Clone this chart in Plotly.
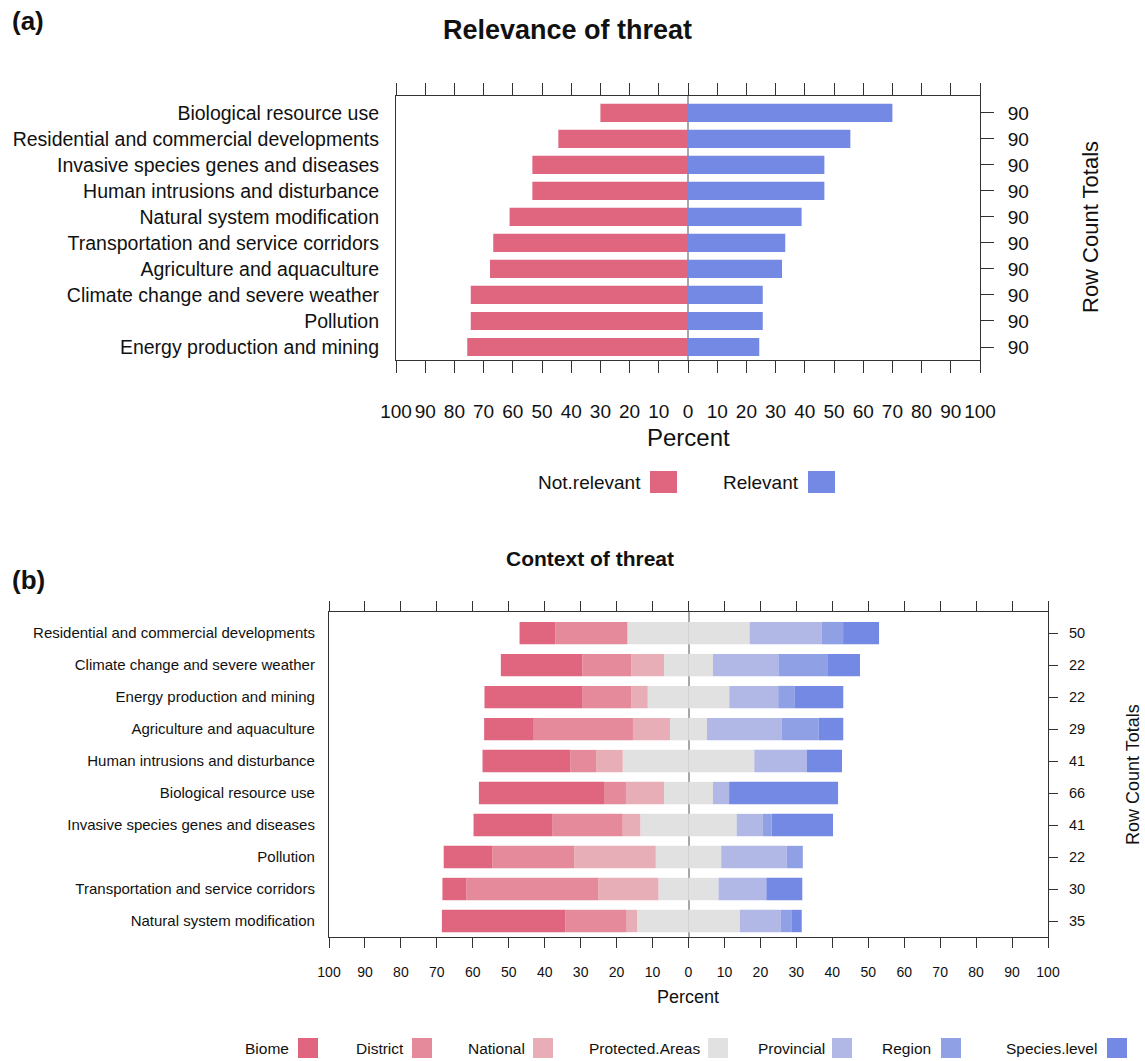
import plotly.graph_objects as go

# ---------------- data ----------------
threats_a = ["Biological resource use", "Residential and commercial developments",
             "Invasive species genes and diseases", "Human intrusions and disturbance",
             "Natural system modification", "Transportation and service corridors",
             "Agriculture and aquaculture", "Climate change and severe weather",
             "Pollution", "Energy production and mining"]
not_relevant = [30.0, 44.4, 53.3, 53.3, 61.1, 66.7, 67.8, 74.4, 74.4, 75.6]
relevant = [70.0, 55.6, 46.7, 46.7, 38.9, 33.3, 32.2, 25.6, 25.6, 24.4]
totals_a = [90, 90, 90, 90, 90, 90, 90, 90, 90, 90]

threats_b = ["Residential and commercial developments", "Climate change and severe weather",
             "Energy production and mining", "Agriculture and aquaculture",
             "Human intrusions and disturbance", "Biological resource use",
             "Invasive species genes and diseases", "Pollution",
             "Transportation and service corridors", "Natural system modification"]
totals_b = [50, 22, 22, 29, 41, 66, 41, 22, 30, 35]
biome = [10.0, 22.7, 27.3, 13.8, 24.4, 34.8, 22.0, 13.6, 6.7, 34.3]
district = [20.0, 13.6, 13.6, 27.6, 7.3, 6.1, 19.5, 22.7, 36.7, 17.1]
national = [0.0, 9.1, 4.5, 10.3, 7.3, 10.6, 4.9, 22.7, 16.7, 2.9]
protected = [34.0, 13.6, 22.7, 10.3, 36.6, 13.6, 26.8, 18.2, 16.7, 28.6]
provincial = [20.0, 18.2, 13.6, 20.7, 14.6, 4.5, 7.3, 18.2, 13.3, 11.4]
region = [6.0, 13.6, 4.5, 10.3, 0.0, 0.0, 2.4, 4.5, 0.0, 2.9]
species = [10.0, 9.1, 13.6, 6.9, 9.8, 30.3, 17.1, 0.0, 10.0, 2.9]

tick_vals = list(range(-100, 101, 10))
tick_text = [str(abs(v)) for v in tick_vals]

# ---------------- style ----------------
W, H = 1145, 1061
FONT = "Liberation Sans, Arial, sans-serif"
C_BIOME, C_DISTRICT, C_NATIONAL = "#E06680", "#E58A9B", "#E8AEB8"
C_PROT, C_PROV, C_REGION, C_SPEC = "#E1E1E1", "#B1B8E6", "#8FA0E4", "#7389E4"


def px(x):
    return x / W


def py(y):
    return 1 - y / H


fig = go.Figure()

# ---- panel (a) ----
fig.add_trace(go.Bar(y=threats_a, x=[-v for v in not_relevant], orientation="h",
                     marker=dict(color=C_BIOME, line_width=0), xaxis="x", yaxis="y",
                     name="Not.relevant", showlegend=False))
fig.add_trace(go.Bar(y=threats_a, x=relevant, orientation="h",
                     marker=dict(color=C_SPEC, line_width=0), xaxis="x", yaxis="y",
                     name="Relevant", showlegend=False))
fig.add_trace(go.Scatter(y=list(range(len(totals_a))), x=[0] * len(totals_a), mode="markers",
                         marker=dict(opacity=0), xaxis="x", yaxis="y3",
                         hoverinfo="skip", showlegend=False))

# ---- panel (b) ----
neg_series = [("Protected.Areas", [-v / 2 for v in protected], C_PROT),
              ("National", [-v for v in national], C_NATIONAL),
              ("District", [-v for v in district], C_DISTRICT),
              ("Biome", [-v for v in biome], C_BIOME)]
pos_series = [("Protected.Areas", [v / 2 for v in protected], C_PROT),
              ("Provincial", provincial, C_PROV),
              ("Region", region, C_REGION),
              ("Species.level", species, C_SPEC)]
for name, vals, col in neg_series + pos_series:
    fig.add_trace(go.Bar(y=threats_b, x=vals, orientation="h", name=name,
                         marker=dict(color=col, line_width=0), xaxis="x2", yaxis="y2",
                         showlegend=False))
fig.add_trace(go.Scatter(y=list(range(len(totals_b))), x=[0] * len(totals_b), mode="markers",
                         marker=dict(opacity=0), xaxis="x2", yaxis="y4",
                         hoverinfo="skip", showlegend=False))

# ---------------- axes ----------------
A_L, A_R, A_T, A_B = 396, 980, 96, 360
B_L, B_R, B_T, B_B = 329, 1048, 612, 937

xcommon = dict(range=[-100, 100], tickmode="array", tickvals=tick_vals, ticktext=tick_text,
               ticks="outside", tickcolor="#333", showline=True, linecolor="#333", linewidth=1.2,
               mirror="ticks", zeroline=True, zerolinecolor="#A8A8A8", zerolinewidth=2,
               showgrid=False, layer="above traces", fixedrange=True, automargin=False,
               tickangle=0)
ycommon = dict(type="category", showline=True, linecolor="#333", linewidth=1.2, mirror=True,
               ticks="", showgrid=False, zeroline=False, fixedrange=True, automargin=False)

fig.update_layout(
    template="none",
    xaxis=dict(xcommon, domain=[px(A_L), px(A_R)], anchor="y", ticklen=12,
               tickfont=dict(size=19, color="#111", family=FONT), ticklabelstandoff=22),
    yaxis=dict(ycommon, domain=[py(A_B), py(A_T)], anchor="x", categoryarray=threats_a,
               categoryorder="array", range=[9.5, -0.65],
               tickfont=dict(size=19.5, color="#111", family=FONT), ticklabelstandoff=12),
    yaxis3=dict(overlaying="y", side="right", anchor="x", range=[9.5, -0.65],
                tickmode="array", tickvals=list(range(len(totals_a))),
                ticktext=[str(t) for t in totals_a], ticks="outside", ticklen=13,
                tickcolor="#333", showline=False, showgrid=False, zeroline=False,
                tickfont=dict(size=19, color="#111", family=FONT), ticklabelstandoff=10,
                fixedrange=True, automargin=False),
    xaxis2=dict(xcommon, domain=[px(B_L), px(B_R)], anchor="y2", ticklen=10,
                tickfont=dict(size=14, color="#111", family=FONT), ticklabelstandoff=12),
    yaxis2=dict(ycommon, domain=[py(B_B), py(B_T)], anchor="x2", categoryarray=threats_b,
                categoryorder="array", range=[9.5, -0.66],
                tickfont=dict(size=15, color="#111", family=FONT), ticklabelstandoff=10),
    yaxis4=dict(overlaying="y2", side="right", anchor="x2", range=[9.5, -0.66],
                tickmode="array", tickvals=list(range(len(totals_b))),
                ticktext=[str(t) for t in totals_b], ticks="outside", ticklen=9,
                tickcolor="#333", showline=False, showgrid=False, zeroline=False,
                tickfont=dict(size=14.5, color="#111", family=FONT), ticklabelstandoff=8,
                fixedrange=True, automargin=False),
    barmode="relative", bargap=0.3,
    width=W, height=H, autosize=False,
    margin=dict(l=0, r=0, t=0, b=0, pad=0),
    paper_bgcolor="white", plot_bgcolor="white",
    font=dict(family=FONT, color="#111"),
    showlegend=False,
)

# ---------------- text ----------------
ann = []


def text(x, y, s, size, bold=False, anchor="center", angle=0):
    ann.append(dict(x=px(x), y=py(y), xref="paper", yref="paper", text=(f"<b>{s}</b>" if bold else s),
                    showarrow=False, xanchor=anchor, yanchor="middle", textangle=angle,
                    font=dict(size=size, family=FONT, color="#111")))


text(10, 21, "(a)", 26, bold=True, anchor="left")
text(567, 30, "Relevance of threat", 27, bold=True)
text(688, 437, "Percent", 24)
text(1090, 227, "Row Count Totals", 22, angle=-90)

text(10, 580, "(b)", 26, bold=True, anchor="left")
text(590, 558, "Context of threat", 21, bold=True)
text(688, 997, "Percent", 18)
text(1133, 775, "Row Count Totals", 18, angle=-90)

shapes = []


def swatch(x0, x1, yc, h, col):
    shapes.append(dict(type="rect", xref="paper", yref="paper", x0=px(x0), x1=px(x1),
                       y0=py(yc + h / 2), y1=py(yc - h / 2), fillcolor=col, line_width=0))


# legend (a)
leg_a = [("Not.relevant", C_BIOME, 643, 650), ("Relevant", C_SPEC, 801, 808)]
for lab, col, tx, sx in leg_a:
    text(tx, 482, lab, 19, anchor="right")
    swatch(sx, sx + 27, 482, 22, col)

# legend (b)
leg_b = [("Biome", C_BIOME, 291, 298), ("District", C_DISTRICT, 406, 412),
         ("National", C_NATIONAL, 527, 533), ("Protected.Areas", C_PROT, 702, 708),
         ("Provincial", C_PROV, 827, 832), ("Region", C_REGION, 933, 941),
         ("Species.level", C_SPEC, 1099, 1107)]
for lab, col, tx, sx in leg_b:
    text(tx, 1048, lab, 15.5, anchor="right")
    swatch(sx, sx + 20, 1048, 20, col)

fig.update_layout(annotations=ann, shapes=shapes)
fig.write_html("out.html", config={"displayModeBar": False},
               post_script="document.body.style.margin='0';document.body.style.overflow='hidden';")
